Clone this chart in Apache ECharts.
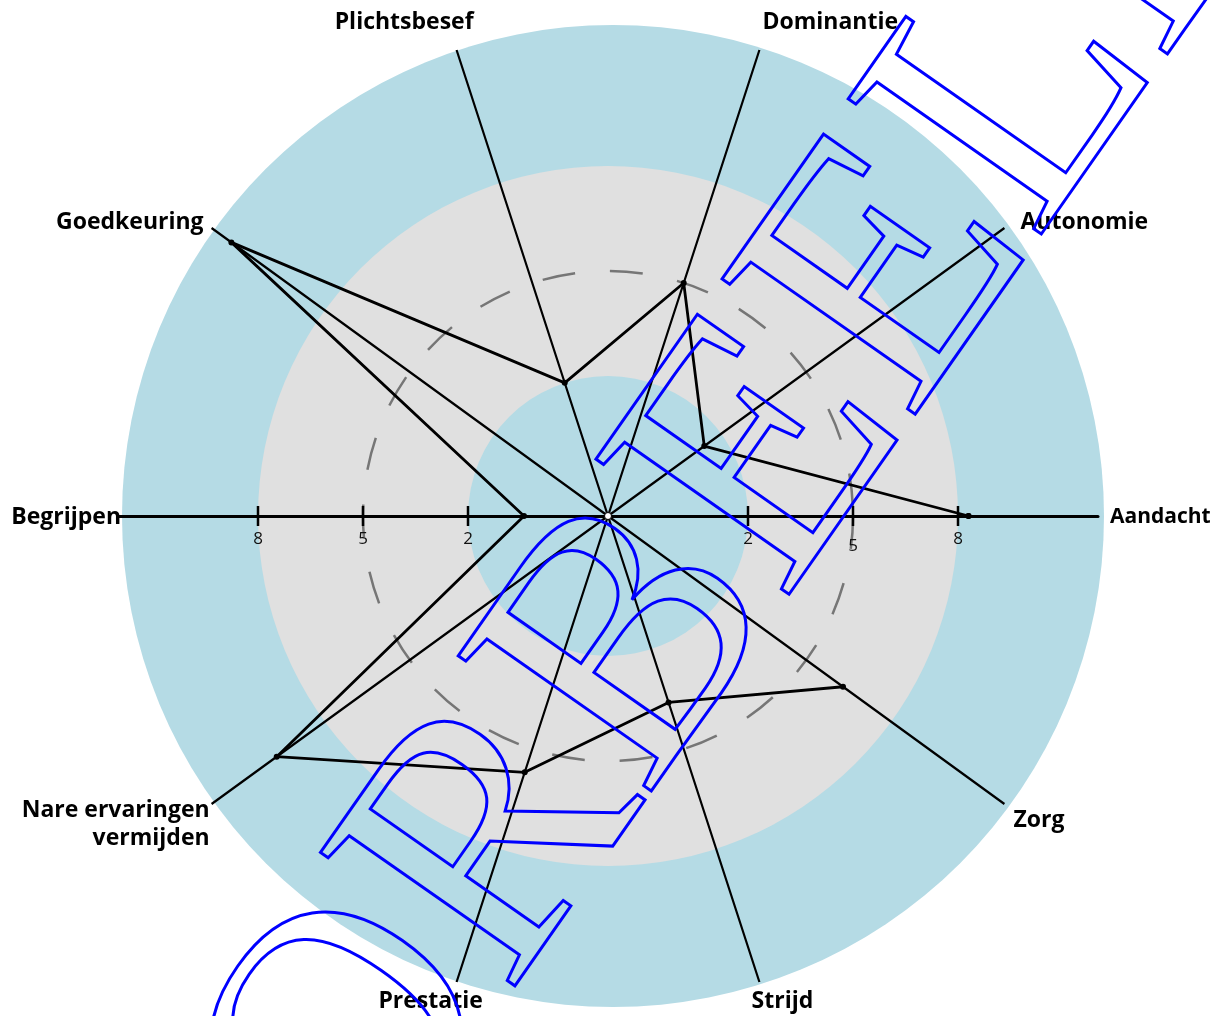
<!DOCTYPE html>
<html><head><meta charset="utf-8">
<script src="https://cdn.jsdelivr.net/npm/echarts@6/dist/echarts.min.js"></script>
<style>html,body{margin:0;padding:0;background:#fff}#c{width:1221px;height:1016px}</style>
</head><body><div id="c"></div>
<script>
// ---- data ----
const categories = ['Aandacht', 'Autonomie', 'Dominantie', 'Plichtsbesef', 'Goedkeuring', 'Begrijpen', 'Nare ervaringen\nvermijden', 'Prestatie', 'Strijd', 'Zorg'];
const scores = [8.3, 1.4, 5.0, 2.0, 11.3, 0.4, 9.7, 5.7, 3.6, 6.3];
const tickValues = [2, 5, 8];
const tickAxes = ['Aandacht', 'Begrijpen'];
const axisMin = -2, axisMax = 12;
const referenceValue = 5;
const innerBandEnd = 2, middleBandEnd = 8;
const watermarkText = 'VOORBEELD';

// ---- layout / style ----
const CX = 608, CY = 516, R = 490;
const OUTER_CENTER = [613, 516], OUTER_R = 491;
const BLUE = '#b5dbe5', GRAY = '#e0e0e0';
const labelLayout = {
  'Aandacht': {align: 'left', offset: [12, 1], fontSize: 21},
  'Autonomie': {align: 'left', offset: [16, -6]},
  'Dominantie': {align: 'left', offset: [3, -28]},
  'Plichtsbesef': {align: 'right', offset: [17, -28]},
  'Goedkeuring': {align: 'right', offset: [-8, -6]},
  'Begrijpen': {align: 'right', offset: [3, 1]},
  'Nare ervaringen\nvermijden': {align: 'right', offset: [-2, 20]},
  'Prestatie': {align: 'center', offset: [-26, 19]},
  'Strijd': {align: 'center', offset: [23, 19]},
  'Zorg': {align: 'left', offset: [9, 16]}
};
const tickLabelShift = {'Aandacht|5': [0, 7]};
// stacked full disks: gray up to middleBandEnd, inner blue up to innerBandEnd
const innerBands = [
  {to: middleBandEnd, color: GRAY},
  {to: innerBandEnd, color: BLUE}
];

const lineData = categories.map((c, i) => [scores[i], c]);
lineData.push([scores[0], categories[0]]);

const tickData = [];
tickAxes.forEach(a => tickValues.forEach(v => {
  const item = {value: [v, a]};
  const sh = tickLabelShift[a + '|' + v];
  if (sh) item.label = {offset: sh};
  tickData.push(item);
}));

const labelData = categories.map(c => {
  const l = {align: labelLayout[c].align, verticalAlign: 'middle', offset: labelLayout[c].offset};
  if (labelLayout[c].fontSize) l.fontSize = labelLayout[c].fontSize;
  return {value: [axisMax, c], label: l};
});

function radiusOf(api, v) {
  const c = api.coord([axisMin, 0]);
  const p = api.coord([v, 0]);
  return {cx: c[0], cy: c[1], r: Math.hypot(p[0] - c[0], p[1] - c[1])};
}
function diskItem(api, v, color) {
  const g = radiusOf(api, v);
  return {type: 'sector', shape: {cx: g.cx, cy: g.cy, r0: 0, r: g.r, startAngle: 0, endAngle: Math.PI * 2}, style: {fill: color}};
}

const chart = echarts.init(document.getElementById('c'), null, {renderer: 'canvas'});
const hiddenAxisParts = {axisLine: {show: false}, axisTick: {show: false}, axisLabel: {show: false}, splitLine: {show: false}, splitArea: {show: false}};
chart.setOption({
  animation: false,
  textStyle: {fontFamily: "'Open Sans', sans-serif"},
  polar: [
    {center: [CX, CY], radius: R},
    {center: [CX, CY], radius: R},
    {center: OUTER_CENTER, radius: OUTER_R}
  ],
  angleAxis: [
    Object.assign({}, hiddenAxisParts, {polarIndex: 0, type: 'category', data: categories, startAngle: 0, clockwise: false, boundaryGap: false, z: 3,
      splitLine: {show: true, lineStyle: {color: '#000', width: 2.2}}}),
    Object.assign({}, hiddenAxisParts, {polarIndex: 1, type: 'category', data: categories, startAngle: 180, clockwise: false, boundaryGap: false}),
    Object.assign({}, hiddenAxisParts, {polarIndex: 2, type: 'category', data: categories, startAngle: 0, clockwise: false, boundaryGap: false})
  ],
  radiusAxis: [
    Object.assign({}, hiddenAxisParts, {polarIndex: 0, type: 'value', min: axisMin, max: axisMax, z: 4,
      axisLine: {show: true, lineStyle: {color: '#000', width: 3}}}),
    Object.assign({}, hiddenAxisParts, {polarIndex: 1, type: 'value', min: axisMin, max: axisMax, z: 4,
      axisLine: {show: true, lineStyle: {color: '#000', width: 3}}}),
    Object.assign({}, hiddenAxisParts, {polarIndex: 2, type: 'value', min: axisMin, max: axisMax})
  ],
  series: [
    {type: 'custom', coordinateSystem: 'polar', polarIndex: 2, z: 0, silent: true,
      data: [[axisMax, 0]],
      renderItem: (params, api) => diskItem(api, api.value(0), BLUE)},
    {type: 'custom', coordinateSystem: 'polar', polarIndex: 0, z: 1, silent: true,
      data: innerBands.map(b => [b.to, 0]),
      renderItem: (params, api) => diskItem(api, api.value(0), innerBands[params.dataIndex].color)},
    {type: 'custom', coordinateSystem: 'polar', polarIndex: 0, z: 2, silent: true,
      data: [[referenceValue, 0]],
      renderItem: (params, api) => {
        const g = radiusOf(api, api.value(0));
        return {type: 'circle', shape: {cx: g.cx, cy: g.cy, r: g.r},
          style: {fill: 'none', stroke: '#767676', lineWidth: 2.5, lineDash: [33, 35]}};
      }},
    {type: 'line', coordinateSystem: 'polar', polarIndex: 0, data: lineData, z: 5,
      lineStyle: {color: '#000', width: 2.8}, symbol: 'circle', symbolSize: 6, showSymbol: true,
      itemStyle: {color: '#000'}},
    {type: 'scatter', coordinateSystem: 'polar', polarIndex: 0, data: tickData, z: 6,
      symbol: 'rect', symbolSize: [2.5, 20], itemStyle: {color: '#000', opacity: 1},
      label: {show: true, position: 'bottom', distance: 5, formatter: p => String(p.value[0]), fontSize: 17, color: '#111'}},
    {type: 'scatter', coordinateSystem: 'polar', polarIndex: 0, data: labelData, z: 6,
      symbolSize: 1, itemStyle: {color: 'rgba(0,0,0,0)', opacity: 1},
      label: {show: true, position: 'inside', formatter: p => p.value[1], fontSize: 23, fontWeight: 'bold', color: '#000', lineHeight: 28}},
    {type: 'scatter', coordinateSystem: 'polar', polarIndex: 0, data: [[axisMin, categories[0]]], z: 7,
      symbolSize: 7, itemStyle: {color: '#fff', borderColor: '#000', borderWidth: 1, opacity: 1}}
  ],
  graphic: [{type: 'text', x: 608, y: 688, rotation: 55 * Math.PI / 180, z: 100, silent: true,
    style: {text: watermarkText, font: "360px 'Liberation Serif'", fill: 'none', stroke: '#0000ff', lineWidth: 3, align: 'center', verticalAlign: 'middle'}}]
});
</script></body></html>
